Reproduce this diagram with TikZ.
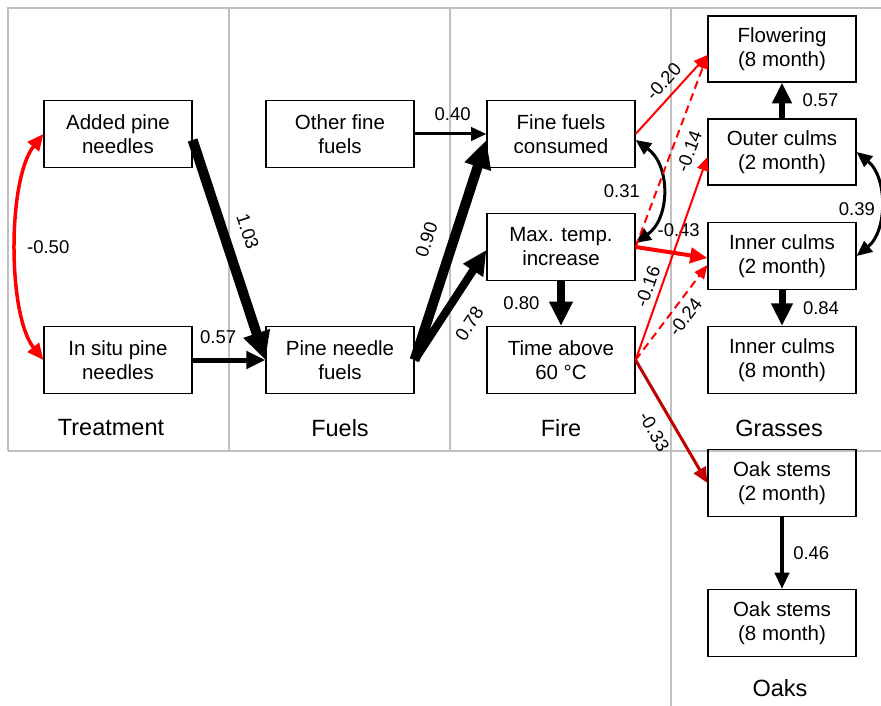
\documentclass[tikz,border=0pt]{standalone}
\usepackage{fontspec}
\setmainfont{Liberation Sans}
\usetikzlibrary{arrows.meta}
\definecolor{gridgray}{HTML}{C0C0C0}
\definecolor{darkred}{HTML}{C00000}
\begin{document}
\begin{tikzpicture}[x=1pt,y=-1pt,
  box/.style={draw=black, line width=1.2pt, minimum width=148pt, minimum height=67pt,
    inner sep=0pt, align=center, font=\fontsize{20.5}{24}\selectfont},
  grp/.style={font=\fontsize{23.5}{27}\selectfont},
  lab/.style={font=\fontsize{18.5}{21}\selectfont, inner sep=0pt},
  conn/.style={-{Triangle[length=10pt 1.8, width=8pt 1.8]}},
  dconn/.style={{Triangle[length=10pt 1.8, width=8pt 1.8]}-{Triangle[length=10pt 1.8, width=8pt 1.8]}},
  dashline/.style={dash pattern=on 8pt off 5pt},
  gridline/.style={draw=gridgray, line width=2pt}]
\useasboundingbox (0,0) rectangle (881,706);
% grid
\draw[gridline] (8,451) -- (8,8) -- (881,8);
\draw[gridline] (8,451) -- (881,451);
\draw[gridline] (229,8) -- (229,451);
\draw[gridline] (450,8) -- (450,451);
\draw[gridline] (671,8) -- (671,706);
% group labels
\node[grp] (gtreat) at (111,428) {Treatment};
\node[grp] (gfuels) at (340,428) {Fuels};
\node[grp] (gfire) at (561,428) {Fire};
\node[grp] (ggrass) at (779,428) {Grasses};
\node[grp] (goaks) at (780,688) {Oaks};
% nodes
\node[box] (added) at (118,134) {Added pine\\needles};
\node[box] (insitu) at (118,360) {In situ pine\\needles};
\node[box] (other) at (340,134) {Other fine\\fuels};
\node[box] (pnf) at (340,360) {Pine needle\\fuels};
\node[box] (ffc) at (561,134) {Fine fuels\\consumed};
\node[box] (mti) at (561,247) {Max. temp.\\increase};
\node[box] (tab) at (561,360) {Time above\\60 °C};
\node[box, minimum height=66pt] (flow) at (782,49) {Flowering\\(8 month)};
\node[box, minimum height=66pt] (outer) at (782,152) {Outer culms\\(2 month)};
\node[box] (inner2) at (782,256) {Inner culms\\(2 month)};
\node[box] (inner8) at (782,360) {Inner culms\\(8 month)};
\node[box] (oak2) at (782,483) {Oak stems\\(2 month)};
\node[box] (oak8) at (782,623) {Oak stems\\(8 month)};
% connectors
\draw[dconn, red, line width=3.5pt] (added.west) .. controls +(-36,45) and +(-36,-45) .. node[lab, black, right=9pt, pos=0.5] {-0.50} (insitu.west);
\draw[conn, line width=10pt] ([yshift=-6pt]added.east) -- node[lab, sloped, above=12pt, pos=0.45] {1.03} (pnf.west);
\draw[conn, line width=5pt] (insitu.east) -- node[lab, above=13.5pt, pos=0.35] {0.57} (pnf.west);
\draw[conn, line width=3pt] (other.east) -- node[lab, above=11.5pt, pos=0.53] {0.40} (ffc.west);
\draw[conn, line width=10pt] (pnf.east) -- node[lab, sloped, above=14.5pt, pos=0.51] {0.90} ([yshift=-6pt]ffc.west);
\draw[conn, line width=8pt] (pnf.east) -- node[lab, sloped, below=15.5pt, pos=0.46] {0.78} ([yshift=-3pt]mti.west);
\draw[conn, line width=8pt] (mti.south) -- node[lab, left=17.5pt] {0.80} (tab.north);
\draw[dconn, line width=3pt] ([yshift=-6pt]ffc.east) .. controls +(35,25) and +(35,-25) .. node[lab, left=20.5pt, pos=0.5] {0.31} ([yshift=4pt]mti.east);
\draw[conn, red, line width=2pt] (ffc.east) -- node[lab, black, sloped, above=7pt, pos=0.54] {-0.20} ([yshift=-6pt]flow.west);
\draw[conn, red, dashline, line width=2pt] (mti.east) -- node[lab, black, sloped, below=9pt, pos=0.53] {-0.14} ([yshift=-6pt]flow.west);
\draw[conn, red, line width=4pt] (mti.east) -- node[lab, black, above=14.5pt, pos=0.6] {-0.43} ([yshift=-2pt]inner2.west);
\draw[conn, red, line width=2pt] (tab.east) -- node[lab, black, sloped, above=5.5pt, pos=0.34] {-0.16} ([yshift=-5pt]outer.west);
\draw[conn, red, dashline, line width=2pt] (tab.east) -- node[lab, black, sloped, below=6pt, pos=0.54] {-0.24} ([yshift=-9pt]inner2.west);
\draw[conn, darkred, line width=3pt] (tab.east) -- node[lab, black, sloped, below=12pt, pos=0.5] {-0.33} (oak2.west);
\draw[conn, line width=6pt] (outer.north) -- node[lab, right=17.5pt] {0.57} (flow.south);
\draw[dconn, line width=3pt] (outer.east) .. controls +(31,25) and +(31,-25) .. node[lab, left=3.5pt, yshift=-5pt, pos=0.5] {0.39} (inner2.east);
\draw[conn, line width=7pt] (inner2.south) -- node[lab, right=17.5pt] {0.84} (inner8.north);
\draw[conn, line width=3.5pt] (oak2.south) -- node[lab, right=9.5pt] {0.46} (oak8.north);
\end{tikzpicture}
\end{document}
